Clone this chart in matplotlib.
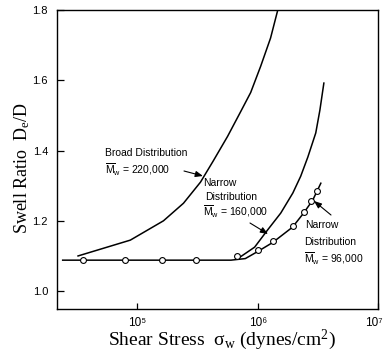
import matplotlib
matplotlib.use("Agg")
import matplotlib.pyplot as plt
import matplotlib.transforms as mtransforms

plt.rcParams['mathtext.fontset'] = 'custom'
plt.rcParams['mathtext.rm'] = 'Liberation Serif'
plt.rcParams['mathtext.sf'] = 'Liberation Sans'
plt.rcParams['mathtext.it'] = 'Liberation Serif:italic'

# ---- data ----
broad_x = [3.22e4, 8.75e4, 1.65e5, 2.42e5, 3.35e5, 4.27e5, 5.62e5, 7.21e5, 8.75e5, 1.06e6, 1.28e6, 1.47e6]
broad_y = [1.10, 1.145, 1.20, 1.25, 1.31, 1.37, 1.44, 1.51, 1.565, 1.64, 1.72, 1.80]

n160_x = [6.95e5, 9.44e5, 1.21e6, 1.556e6, 1.96e6, 2.28e6, 2.61e6, 3.04e6, 3.29e6, 3.55e6]
n160_y = [1.094, 1.125, 1.174, 1.222, 1.279, 1.327, 1.381, 1.45, 1.515, 1.592]

n96_x = [2.4e4, 6.0e5, 7.9e5, 1.0e6, 1.33e6, 1.95e6, 2.41e6, 2.87e6, 3.35e6]
n96_y = [1.088, 1.088, 1.0925, 1.1125, 1.138, 1.182, 1.222, 1.259, 1.307]

pts_x = [3.55e4, 7.9e4, 1.6e5, 3.1e5, 6.7e5, 1.0e6, 1.33e6, 1.95e6, 2.41e6, 2.8e6, 3.09e6]
pts_y = [1.088, 1.088, 1.088, 1.088, 1.10, 1.117, 1.142, 1.185, 1.225, 1.256, 1.285]

xticks = [1e5, 1e6, 1e7]
xtick_labels = ['10⁵', '10⁶', '10⁷']
yticks = [1.0, 1.2, 1.4, 1.6, 1.8]
ytick_labels = ['1.0', '1.2', '1.4', '1.6', '1.8']

W, H = 385, 351
fig = plt.figure(figsize=(W / 100, H / 100), dpi=100)
ax = fig.add_axes([57 / W, 1 - 309 / H, (378 - 57) / W, (309 - 10) / H])

ax.plot(broad_x, broad_y, color='black', lw=1.1)
ax.plot(n160_x, n160_y, color='black', lw=1.1)
ax.plot(n96_x, n96_y, color='black', lw=1.1)
ax.plot(pts_x, pts_y, linestyle='none', marker='o', ms=4.2, mfc='white',
        mec='black', mew=0.8, zorder=3)

ax.set_xscale('log')
ax.set_xlim(10 ** 4.333, 1e7)
ax.set_ylim(0.949, 1.8)
ax.set_xticks(xticks)
ax.set_xticklabels(xtick_labels, family='Liberation Sans', fontsize=8.5)
ax.minorticks_off()
ax.set_yticks(yticks)
ax.set_yticklabels(ytick_labels, family='Liberation Sans', fontsize=8)
ax.tick_params(axis='y', direction='in', length=5, width=0.9, pad=6.5)
ax.tick_params(axis='x', direction='in', length=4, width=0.9, pad=6)
for s in ax.spines.values():
    s.set_linewidth(1.0)

# keep the last x tick label inside the figure
last = ax.get_xticklabels()[-1]
last.set_horizontalalignment('right')
last.set_transform(last.get_transform() +
                   mtransforms.ScaledTranslation(5 / 100, 0, fig.dpi_scale_trans))

def ftext(x, y, s, **kw):
    fig.text(x / W, 1 - y / H, s, **kw)

ftext(22, 168, r'Swell Ratio  D$_\mathrm{e}$/D', rotation=90, ha='center', va='center',
      family='Liberation Serif', fontsize=13)
ftext(222, 340, r'Shear Stress  σ$_\mathrm{w}$ (dynes/cm$^2$)', ha='center', va='center',
      family='Liberation Serif', fontsize=14)

lab = dict(ha='left', va='center', family='Liberation Sans', fontsize=7.5)
mw = r'$\overline{\mathsf{M}}_\mathsf{w}$'
ftext(105, 153, 'Broad Distribution', **lab)
ftext(105, 169, mw + ' = 220,000', **lab)
ftext(203, 183, 'Narrow', **lab)
ftext(205, 197, 'Distribution', **lab)
ftext(203, 211, mw + ' = 160,000', **lab)
ftext(305, 225, 'Narrow', **lab)
ftext(304, 242, 'Distribution', **lab)
ftext(304, 258, mw + ' = 96,000', **lab)

arrow = dict(arrowstyle='-|>,head_length=0.45,head_width=0.18', color='black', lw=0.8,
             shrinkA=0, shrinkB=0)
for (x0, y0), (x1, y1) in [((184, 171), (203, 176)),
                           ((250, 223), (268, 234)),
                           ((331, 215), (314, 201))]:
    ax.annotate('', xy=(x1, H - y1), xycoords='figure pixels',
                xytext=(x0, H - y0), textcoords='figure pixels', arrowprops=arrow)

fig.savefig('out.png', dpi=100)
